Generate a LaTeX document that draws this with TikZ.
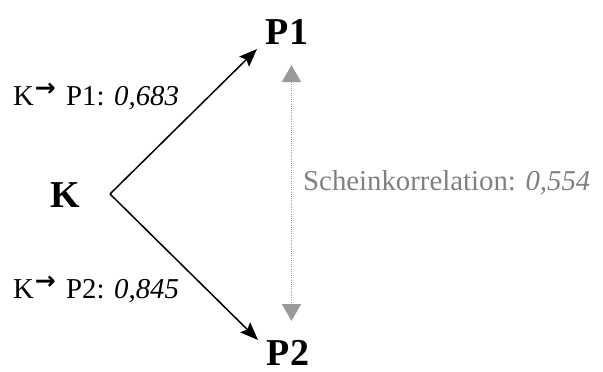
\documentclass[tikz,border=0pt]{standalone}
\usepackage{fontspec}
\setmainfont{Liberation Serif}
\newfontfamily\symfont{DejaVu Sans}
\usetikzlibrary{arrows.meta}
\definecolor{corrgray}{HTML}{808080}
\definecolor{tipgray}{HTML}{9A9A9A}
\tikzset{
  var/.style={inner sep=0pt, anchor=base, font=\fontsize{38}{40}\selectfont\bfseries},
  lbl/.style={inner sep=0pt, anchor=base west, font=\fontsize{28.8}{32}\selectfont},
  path/.style={line width=1.5pt, -{Stealth[length=18pt,width=14pt,inset=3pt]}},
  corr/.style={tipgray, line width=1.6pt, dash pattern=on 1pt off 1.2pt, {Triangle[length=17pt,width=19pt]}-{Triangle[length=17pt,width=19pt]}}
}
\newcommand{\karrow}{\hspace{1pt}\raisebox{0.3em}{\symfont\bfseries\fontsize{25}{25}\selectfont →}\hspace{3pt}}
\begin{document}
\begin{tikzpicture}[x=1pt,y=-1pt]
  \useasboundingbox (0,0) rectangle (603,372);
  % variables
  \node[var] (K) at (65,207) {K};
  \node[var] (P1) at (287,45) {P1};
  \node[var] (P2) at (288,365) {P2};
  % causal paths
  \coordinate (src) at (110,194);
  \coordinate (t1) at (257,49);
  \coordinate (t2) at (258,340);
  \draw[path] (src) -- (t1);
  \draw[path] (src) -- (t2);
  % spurious correlation
  \coordinate (c1) at (291.5,65);
  \coordinate (c2) at (291.5,321);
  \draw[corr] (c1) -- (c2);
  % labels
  \node[lbl] (l1) at (13,105) {K\karrow\ P1: \textit{0,683}};
  \node[lbl] (l2) at (13,298) {K\karrow\ P2: \textit{0,845}};
  \node[lbl, text=corrgray] (lc) at (303,190) {Scheinkorrelation: \textit{0,554}};
\end{tikzpicture}
\end{document}
